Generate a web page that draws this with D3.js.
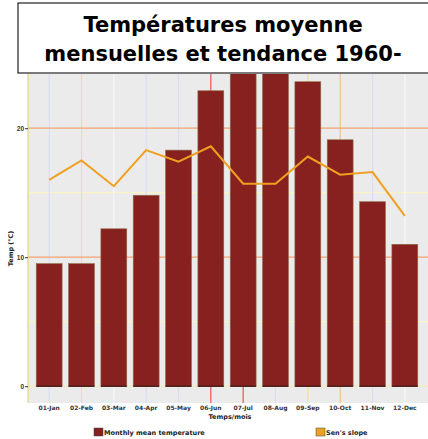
<!DOCTYPE html>
<html>
<head>
<meta charset="utf-8">
<script src="https://cdn.jsdelivr.net/npm/d3@7"></script>
<style>
  body { margin: 0; background: #fff; }
  svg { display: block; font-family: "DejaVu Sans", Verdana, sans-serif; }
</style>
</head>
<body>
<svg id="chart" width="428" height="439"></svg>
<script>
const months = ["01-Jan", "02-Feb", "03-Mar", "04-Apr", "05-May", "06-Jun",
                "07-Jul", "08-Aug", "09-Sep", "10-Oct", "11-Nov", "12-Dec"];
const meanTemp = [9.5, 9.5, 12.2, 14.8, 18.3, 22.9, 26.5, 26.2, 23.6, 19.1, 14.3, 11.0];
const sensSlope = [16.0, 17.5, 15.5, 18.3, 17.4, 18.6, 15.7, 15.7, 17.8, 16.4, 16.6, 13.2];
const yTicks = [0, 10, 20];
const titleLines = ["Températures moyenne", "mensuelles et tendance 1960-"];

const svg = d3.select("#chart"),
    width = +svg.attr("width"),
    height = +svg.attr("height");

const plot = {left: 28, right: 428, top: 74, bottom: 403};

const x = d3.scaleBand()
    .domain(months)
    .range([33, 421])
    .paddingInner(0.2)
    .paddingOuter(0.1);

const y = d3.scaleLinear()
    .domain([-1.3, 24.2])
    .range([plot.bottom, plot.top]);

// odd coloured grid lines from the original render
const vGridColors = ["#dcdcf5", "#f8d8a8", "#f6f6f6", "#dcdcf5", "#dcdcf5", "#f05050",
                     "#f05050", "#dcdcf5", "#f8e070", "#f8c080", "#dcdcf5", "#f6f6f6"];

svg.append("defs").append("clipPath").attr("id", "clip")
  .append("rect")
    .attr("x", plot.left).attr("y", plot.top)
    .attr("width", plot.right - plot.left).attr("height", plot.bottom - plot.top);

svg.append("rect")
    .attr("x", plot.left).attr("y", plot.top)
    .attr("width", plot.right - plot.left).attr("height", plot.bottom - plot.top)
    .attr("fill", "#ebebeb");

const g = svg.append("g").attr("clip-path", "url(#clip)");

// minor horizontal grid
g.selectAll(".minor")
  .data([5, 15])
  .join("line")
    .attr("x1", plot.left).attr("x2", plot.right)
    .attr("y1", d => y(d)).attr("y2", d => y(d))
    .style("stroke", "#faf3c8")
    .style("stroke-width", 1.2);

// vertical grid
g.selectAll(".vgrid")
  .data(months)
  .join("line")
    .attr("x1", d => x(d) + x.bandwidth() / 2)
    .attr("x2", d => x(d) + x.bandwidth() / 2)
    .attr("y1", plot.top).attr("y2", plot.bottom)
    .style("stroke", (d, i) => vGridColors[i])
    .style("stroke-width", 1.2);

// major horizontal grid
g.selectAll(".major")
  .data(yTicks)
  .join("line")
    .attr("x1", plot.left).attr("x2", plot.right)
    .attr("y1", d => y(d)).attr("y2", d => y(d))
    .style("stroke", d => d == 0 ? "#f6e8b0" : "#f4a070")
    .style("stroke-width", 1.2);

// bars
g.selectAll(".bar")
  .data(meanTemp)
  .join("rect")
    .attr("x", (d, i) => x(months[i]))
    .attr("y", d => y(d))
    .attr("width", x.bandwidth())
    .attr("height", d => y(0) - y(d))
    .attr("fill", "#872120")
    .style("stroke", "#8a6a40")
    .style("stroke-width", 0.6);

g.selectAll(".base")
  .data(meanTemp)
  .join("line")
    .attr("x1", (d, i) => x(months[i]))
    .attr("x2", (d, i) => x(months[i]) + x.bandwidth())
    .attr("y1", y(0)).attr("y2", y(0))
    .style("stroke", "#3a1010")
    .style("stroke-width", 1.2);

// Sen's slope line
const line = d3.line()
    .x((d, i) => x(months[i]) + x.bandwidth() / 2)
    .y(d => y(d));

g.append("path")
    .datum(sensSlope)
    .attr("d", line)
    .style("fill", "none")
    .style("stroke", "#f0a020")
    .style("stroke-width", 2);

// left axis line
svg.append("line")
    .attr("x1", plot.left).attr("x2", plot.left)
    .attr("y1", plot.top).attr("y2", plot.bottom)
    .style("stroke", "#e8dc90")
    .style("stroke-width", 1.5);

// y axis
const yAxis = svg.append("g")
    .attr("transform", `translate(${plot.left},0)`)
    .call(d3.axisLeft(y).tickValues(yTicks).tickSize(3).tickPadding(1));
yAxis.select(".domain").remove();
yAxis.selectAll("text")
    .style("font-size", "6.5px")
    .style("font-weight", "bold")
    .attr("fill", "#333");
yAxis.selectAll("line").style("stroke", "#333");

svg.append("text")
    .attr("transform", `translate(13,${(plot.top + plot.bottom) / 2 + 10}) rotate(-90)`)
    .attr("text-anchor", "middle")
    .style("font-size", "6.5px")
    .style("font-weight", "bold")
    .attr("fill", "#222")
    .text("Temp (°C)");

// x axis labels
svg.append("g")
  .selectAll("text")
  .data(months)
  .join("text")
    .attr("x", d => x(d) + x.bandwidth() / 2)
    .attr("y", plot.bottom + 7)
    .attr("text-anchor", "middle")
    .style("font-size", "6px")
    .style("font-weight", "bold")
    .attr("fill", "#333")
    .text(d => d);

svg.append("text")
    .attr("x", 230).attr("y", plot.bottom + 16)
    .attr("text-anchor", "middle")
    .style("font-size", "6.5px")
    .style("font-weight", "bold")
    .attr("fill", "#222")
    .text("Temps/mois");

// legend
const legend = [
  {label: "Monthly mean temperature", color: "#872120", x: 94},
  {label: "Sen's slope", color: "#f0a020", x: 316}
];
const lg = svg.append("g");
lg.selectAll("rect")
  .data(legend)
  .join("rect")
    .attr("x", d => d.x).attr("y", 428)
    .attr("width", 9).attr("height", 8)
    .attr("fill", d => d.color)
    .style("stroke", "#444").style("stroke-width", 0.5);
lg.selectAll("text")
  .data(legend)
  .join("text")
    .attr("x", d => d.x + 10).attr("y", 435)
    .style("font-size", "6.5px")
    .style("font-weight", "bold")
    .attr("fill", "#222")
    .text(d => d.label);

// title box
svg.append("rect")
    .attr("x", 18).attr("y", 3)
    .attr("width", 420).attr("height", 70)
    .attr("fill", "#fff")
    .style("stroke", "#222")
    .style("stroke-width", 1.2);

svg.append("g")
  .selectAll("text")
  .data(titleLines)
  .join("text")
    .attr("x", 223)
    .attr("y", (d, i) => 32 + i * 29)
    .attr("text-anchor", "middle")
    .style("font-size", "21px")
    .style("font-weight", "bold")
    .attr("fill", "#000")
    .text(d => d);
</script>
</body>
</html>
